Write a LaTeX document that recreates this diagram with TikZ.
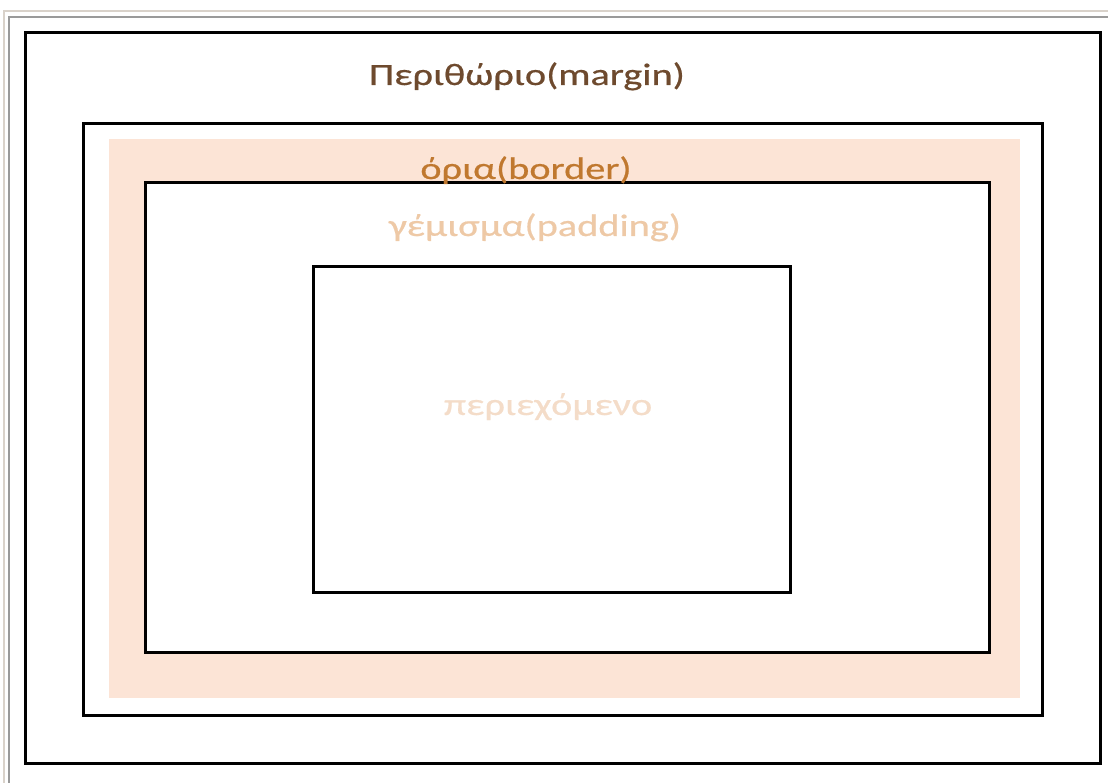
\documentclass[tikz,border=0pt]{standalone}
\usepackage{fontspec}
\newfontfamily\lbl{Carlito}[FakeStretch=1.3,FakeBold=0.6]
\definecolor{peach}{HTML}{FCE4D6}
\definecolor{margincol}{HTML}{6E4A2E}
\definecolor{bordercol}{HTML}{C0782F}
\definecolor{paddingcol}{HTML}{EEC9A6}
\definecolor{contentcol}{HTML}{F4DCC8}
\definecolor{frameA}{HTML}{D9D2CA}
\definecolor{frameB}{HTML}{9A9A9A}
\begin{document}
\begin{tikzpicture}[x=1pt,y=-1pt,
  box/.style={draw=black,line width=3pt,inner sep=0pt,outer sep=0pt,fill=none},
  band/.style={fill=peach,draw=none,inner sep=0pt,outer sep=0pt},
  lab/.style={anchor=base,inner sep=0pt,font=\lbl\fontsize{31}{37}\selectfont}]
\useasboundingbox (0,0) rectangle (1108,783);
\fill[white] (0,0) rectangle (1108,783);
% screenshot frame
\coordinate (fa1) at (4,11); \coordinate (fa2) at (1108,11); \coordinate (fa3) at (4,783);
\coordinate (fb1) at (9,17); \coordinate (fb2) at (1108,17); \coordinate (fb3) at (9,783);
\draw[frameA,line width=1.5pt] (fa3) -- (fa1) -- (fa2);
\draw[frameB,line width=1.5pt] (fb3) -- (fb1) -- (fb2);
% boxes
\node[box,minimum width=1075pt,minimum height=730pt] (marginbox) at (562.5,398) {};
\node[box,minimum width=959pt,minimum height=591pt] (borderbox) at (562.5,419.5) {};
\node[band,minimum width=911pt,minimum height=559pt] (borderband) at (564.5,418.5) {};
\node[box,fill=white,minimum width=844pt,minimum height=469pt] (paddingbox) at (567,417.5) {};
\node[box,minimum width=477pt,minimum height=325pt] (contentbox) at (551.5,429.5) {};
% labels
\node[lab,text=margincol] (marginlab) at (527,85) {Περιθώριο(margin)};
\node[lab,text=bordercol] (borderlab) at (526,179) {όρια(border)};
\node[lab,text=paddingcol] (paddinglab) at (535,236) {γέμισμα(padding)};
\node[lab,text=contentcol] (contentlab) at (548,415) {περιεχόμενο};
\end{tikzpicture}
\end{document}
